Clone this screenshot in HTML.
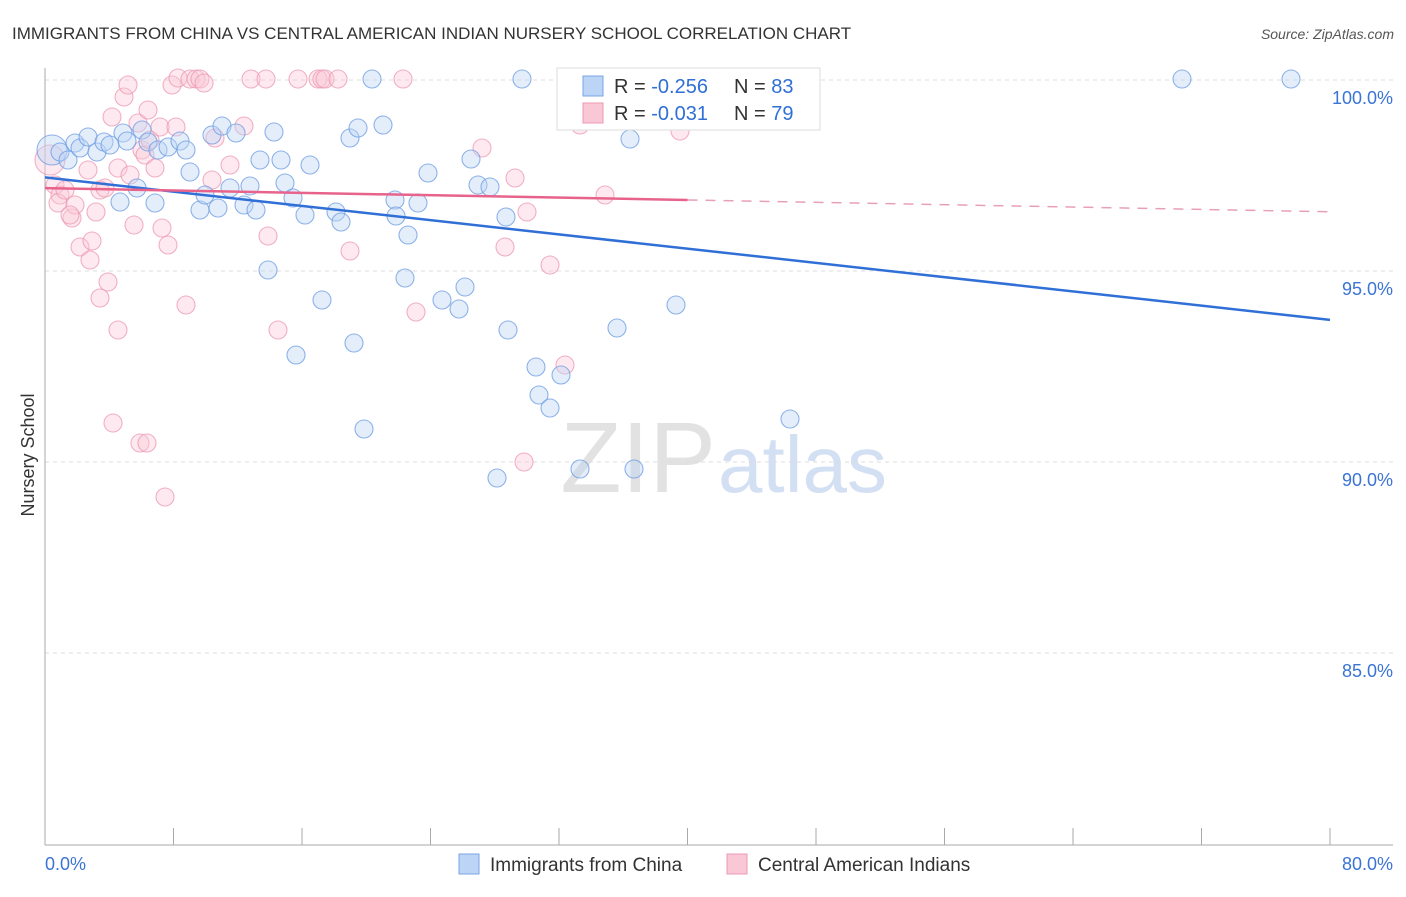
<!DOCTYPE html>
<html><head><meta charset="utf-8"><style>
body{margin:0;background:#fff;font-family:"Liberation Sans",sans-serif;}
svg text{font-family:"Liberation Sans",sans-serif;}
</style></head><body>
<svg id="c" width="1406" height="892" xmlns="http://www.w3.org/2000/svg">
<text x="12" y="39" font-size="17" fill="#333">IMMIGRANTS FROM CHINA VS CENTRAL AMERICAN INDIAN NURSERY SCHOOL CORRELATION CHART</text>
<text x="1394" y="39" font-size="14" fill="#555" font-style="italic" text-anchor="end">Source: ZipAtlas.com</text>
<text x="34" y="455" font-size="18" fill="#333" text-anchor="middle" transform="rotate(-90 34 455)">Nursery School</text>
<text x="716" y="492" font-size="100" fill="#e2e2e2" font-family="Liberation Serif" text-anchor="end">ZIP</text>
<text x="718" y="492" font-size="80" fill="#d3e0f3">atlas</text>
<g id="grid"></g><g id="axes"></g><g id="pts"></g><g id="trend"></g>
<g>
<rect x="557" y="68" width="263" height="62" fill="#fff" stroke="#ddd"/>
<rect x="583" y="76" width="20" height="20" fill="#bcd4f5" stroke="#7aa6e6"/>
<rect x="583" y="103" width="20" height="20" fill="#f9c7d6" stroke="#ec98b3"/>
<text x="614" y="93" font-size="20" fill="#333">R = <tspan fill="#2f6fd6">-0.256</tspan></text>
<text x="734" y="93" font-size="20" fill="#333">N = <tspan fill="#2f6fd6">83</tspan></text>
<text x="614" y="120" font-size="20" fill="#333">R = <tspan fill="#2f6fd6">-0.031</tspan></text>
<text x="734" y="120" font-size="20" fill="#333">N = <tspan fill="#2f6fd6">79</tspan></text>
</g>
<g>
<rect x="459" y="854" width="20" height="20" fill="#bcd4f5" stroke="#7aa6e6"/>
<text x="490" y="871" font-size="19" fill="#333">Immigrants from China</text>
<rect x="727" y="854" width="20" height="20" fill="#f9c7d6" stroke="#ec98b3"/>
<text x="758" y="871" font-size="19" fill="#333">Central American Indians</text>
</g>
</svg>
<script>
const yTicks=[100,95,90,85];
const xTickLabels=["0.0%","80.0%"];
const blueX=[52,60,68,75,80,88,97,104,110,123,127,142,148,158,168,180,186,137,120,155,190,200,205,212,222,230,236,218,244,250,256,260,268,274,281,285,293,296,305,310,322,336,341,350,354,358,364,372,383,395,396,405,408,418,428,442,459,465,471,478,490,497,506,508,522,536,539,550,561,580,598,617,630,634,676,790,1182,1291,573];
const blueY=[150,152,160,143,148,137,152,142,145,133,141,130,142,150,147,141,150,188,202,203,172,210,195,135,126,188,133,208,205,186,210,160,270,132,160,183,198,355,215,165,300,212,222,138,343,128,429,79,125,200,216,278,235,203,173,300,309,287,159,185,187,478,217,330,79,367,395,408,375,469,90,328,139,469,305,419,79,79,79];
const pinkX=[50,55,60,58,65,72,80,88,92,90,100,100,105,108,112,113,118,118,124,128,130,134,138,142,145,148,150,155,160,162,165,168,172,176,178,186,190,196,200,204,212,215,230,244,251,266,268,278,298,318,322,325,338,350,403,416,482,505,515,524,527,550,565,580,605,680,140,147,96,75,70];
const pinkY=[160,185,195,203,190,218,247,170,241,260,298,190,188,282,117,423,330,168,97,85,175,225,123,150,155,110,140,168,127,228,497,245,85,127,78,305,79,79,79,83,180,138,165,126,79,79,236,330,79,79,79,79,79,251,79,312,148,247,178,462,212,265,365,125,195,131,443,443,212,205,215];
const chinaX=blueX.map(p=>(p-45)/16.0625), chinaY=blueY.map(p=>100-(p-80)/38.2);
const camX=pinkX.map(p=>(p-45)/16.0625), camY=pinkY.map(p=>100-(p-80)/38.2);
const blueTrend=[[0,97.45],[80,93.72]];
const pinkTrendSolid=[[0,97.17],[40,96.86]];
const pinkTrendDash=[[40,96.86],[80,96.55]];
const sx=v=>45+v*16.0625, sy=v=>80+(100-v)*38.2;
const NS="http://www.w3.org/2000/svg";
function mk(t,a,p){const e=document.createElementNS(NS,t);for(const k in a)e.setAttribute(k,a[k]);document.getElementById(p).appendChild(e);return e;}
yTicks.forEach(t=>{
 const l=mk('line',{x1:45,x2:1393,y1:sy(t),y2:sy(t),stroke:'#ddd','stroke-dasharray':'4,4'},'grid');
 
 
 const tx=mk('text',{x:1393,y:sy(t)+24,'font-size':18,fill:'#3a74d4','text-anchor':'end'},'grid');
 tx.textContent=t.toFixed(1)+'%';
 
 
});
const ax=mk('line',{x1:45,x2:45,y1:68,y2:845,stroke:'#aaa'},'axes');


const bx=mk('line',{x1:45,x2:1393,y1:845,y2:845,stroke:'#aaa'},'axes');


for(let i=0;i<=10;i++){const l=mk('line',{x1:sx(i*8),x2:sx(i*8),y1:828,y2:845,stroke:'#aaa'},'axes');
 
 }
[[0,'start',45],[1,'end',1393]].forEach(([i,a,x])=>{const t=mk('text',{x:x,y:870,'font-size':18,fill:'#3a74d4','text-anchor':a},'axes');t.textContent=xTickLabels[i];
 
 });
function dots(X,Y,f,s,name){X.forEach((x,i)=>{const c=mk('circle',{cx:sx(x),cy:sy(Y[i]),r:i==0?15:9,fill:f,'fill-opacity':0.4,stroke:s,'stroke-opacity':0.75,'stroke-width':1.1},'pts');
 
 });}
dots(camX,camY,'#f9c7d6','#ec98b3','point-central-american-indians');
dots(chinaX,chinaY,'#bcd4f5','#6b9be2','point-immigrants-from-china');
function ln(d,c,w,dash,name){const l=mk('line',{x1:sx(d[0][0]),y1:sy(d[0][1]),x2:sx(d[1][0]),y2:sy(d[1][1]),stroke:c,'stroke-width':w},'trend');
 if(dash)l.setAttribute('stroke-dasharray',dash);
 
 }
ln(blueTrend,'#2f6fd6',2.5,null,'trend-line-china');
ln(pinkTrendSolid,'#e8638c',2.5,null,'trend-line-central-american');
ln(pinkTrendDash,'#e8a0b6',1.5,'10,8','trend-line-central-american-extrapolated');
</script>
</body></html>
